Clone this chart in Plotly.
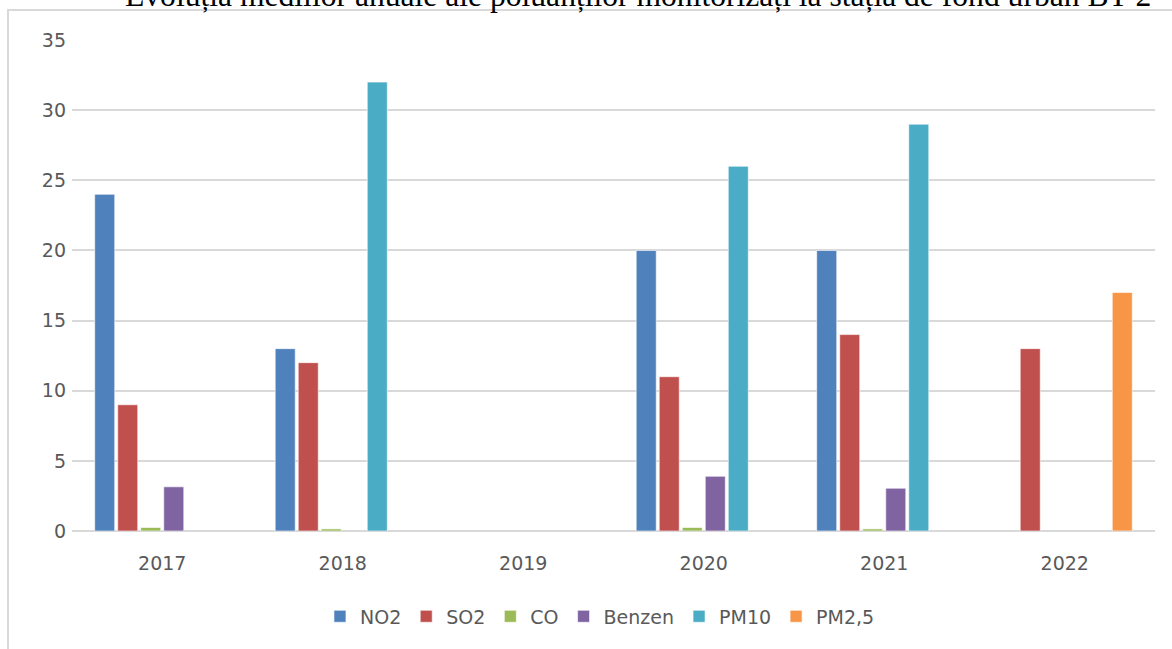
import plotly.graph_objects as go

years = ["2017", "2018", "2019", "2020", "2021", "2022"]
no2 = [24, 13, None, 20, 20, None]
so2 = [9, 12, None, 11, 14, 13]
co = [0.25, 0.15, None, 0.25, 0.15, None]
benzen = [3.15, None, None, 3.9, 3.05, None]
pm10 = [None, 32, None, 26, 29, None]
pm25 = [None, None, None, None, None, 17]

series = [
    ("NO2", no2, "#4f81bd"),
    ("SO2", so2, "#c0504d"),
    ("CO", co, "#9bbb59"),
    ("Benzen", benzen, "#8064a2"),
    ("PM10", pm10, "#4bacc6"),
    ("PM2,5", pm25, "#f79646"),
]

title = "Evoluția mediilor anuale ale poluanților monitorizați la stația de fond urban BT-2"
grey = "#595959"
font = "DejaVu Sans"

fig = go.Figure()
for name, vals, col in series:
    fig.add_trace(go.Bar(
        x=years, y=vals, name=name,
        marker=dict(color=col, line=dict(color="rgba(255,255,255,0.6)", width=1)),
    ))

fig.update_layout(
    width=1172, height=649,
    margin=dict(l=72, r=17, t=40, b=117.5),
    paper_bgcolor="white", plot_bgcolor="white",
    barmode="group", bargap=0.235, bargroupgap=0.13,
    font=dict(family=font, size=19, color=grey),
    showlegend=True,
    legend=dict(orientation="h", x=0.4875, xanchor="center", y=-0.174, yanchor="middle",
                font=dict(family=font, size=19, color=grey), itemwidth=30),
    xaxis=dict(showgrid=False, showline=False, ticks="", ticklabelstandoff=19,
               tickfont=dict(family=font, size=19, color=grey)),
    yaxis=dict(range=[0, 35], dtick=5, showgrid=True, gridcolor="#d9d9d9", gridwidth=2,
               zeroline=True, zerolinecolor="#d9d9d9", zerolinewidth=2, showline=False,
               ticklabelstandoff=5, tickfont=dict(family=font, size=19, color=grey)),
)

# chart frame (cropped on right and bottom)
fig.add_shape(type="rect", xref="paper", yref="paper", x0=-0.0591, x1=1.2, y0=-0.5, y1=1.061,
              line=dict(color="#d9d9d9", width=2), fillcolor="rgba(0,0,0,0)", layer="below")

# document heading above the chart, cut by the top of the image
fig.add_annotation(text=title, xref="paper", yref="paper", x=(123 - 72) / 1083, xanchor="left",
                   y=1.05, yanchor="bottom", showarrow=False,
                   font=dict(family="Liberation Serif", size=31.6, color="black"))

fig.write_html("out.html", config=dict(displayModeBar=False),
               post_script="document.body.style.margin='0';")
